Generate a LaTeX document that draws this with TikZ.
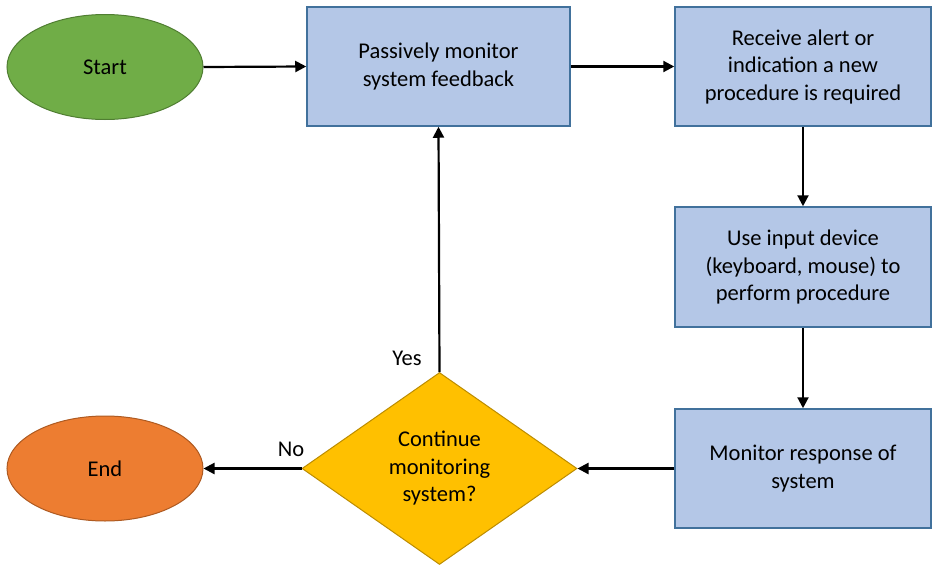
\documentclass[tikz,border=0pt]{standalone}
\usepackage{fontspec}
\setmainfont{Carlito}
\usetikzlibrary{shapes.geometric,arrows.meta}

\definecolor{termgreen}{HTML}{70AD47}
\definecolor{termgreenline}{HTML}{507E32}
\definecolor{termorange}{HTML}{ED7D31}
\definecolor{termorangeline}{HTML}{AE5A21}
\definecolor{procblue}{HTML}{B4C7E7}
\definecolor{procblueline}{HTML}{41719C}
\definecolor{decgold}{HTML}{FFC000}
\definecolor{decgoldline}{HTML}{BC8C00}

\tikzset{
  every node/.style={font=\fontsize{22.5}{27.5}\selectfont},
  terminal/.style={ellipse, draw, line width=1pt, minimum width=196pt,
    minimum height=105pt, inner sep=0pt},
  procbox/.style={rectangle, draw=procblueline, fill=procblue, line width=1.5pt,
    minimum height=119pt, inner sep=0pt, align=center},
  decision/.style={diamond, draw=decgoldline, fill=decgold, line width=1pt,
    minimum width=275pt, minimum height=192pt, inner sep=0pt, align=center},
  flow/.style={line width=2.2pt, -{Triangle[length=11pt,width=11pt]}},
  edgelabel/.style={inner sep=0pt}
}

\begin{document}
\begin{tikzpicture}[x=1pt,y=-1pt]
  \useasboundingbox (0,0) rectangle (932,565);

  % terminals
  \node[terminal, fill=termgreen, draw=termgreenline] (start) at (105,67) {Start};
  \node[terminal, fill=termorange, draw=termorangeline] (end) at (105,468.5) {End};

  % process steps
  \node[procbox, minimum width=263pt] (watch) at (438.5,66.5)
    {Passively monitor\\system feedback};
  \node[procbox, minimum width=256pt] (alert) at (803,66.5)
    {Receive alert or\\indication a new\\procedure is required};
  \node[procbox, minimum width=256pt, minimum height=120pt] (input) at (803,267)
    {Use input device\\(keyboard, mouse) to\\perform procedure};
  \node[procbox, minimum width=256pt] (resp) at (803,468.5)
    {Monitor response of\\system};

  % decision
  \node[decision] (cont) at (439.5,468.5) {Continue\\monitoring\\system?};

  % connectors
  \draw[flow] (start.east) -- (watch.west);
  \draw[flow] (watch.east) -- (alert.west);
  \draw[flow] (alert.south) -- (input.north);
  \draw[flow] (input.south) -- (resp.north);
  \draw[flow] (resp.west) -- (cont.east);
  \draw[flow] (cont.north) -- (watch.south);
  \draw[flow] (cont.west) -- (end.east);

  % branch labels
  \node[edgelabel] (yes) at (407,358) {Yes};
  \node[edgelabel] (no) at (291,449) {No};
\end{tikzpicture}
\end{document}
